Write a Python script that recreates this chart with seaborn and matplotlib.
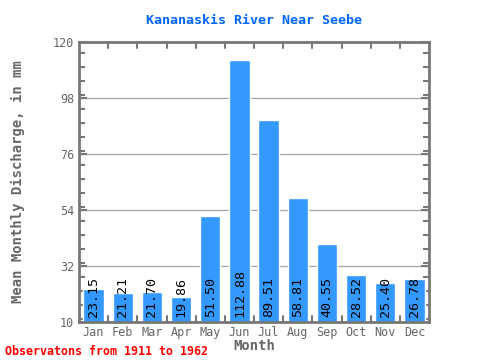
import numpy as np
import pandas as pd
import seaborn as sns
import matplotlib.pyplot as plt
from matplotlib.ticker import MultipleLocator, FixedLocator

months = ['Jan', 'Feb', 'Mar', 'Apr', 'May', 'Jun', 'Jul', 'Aug', 'Sep', 'Oct', 'Nov', 'Dec']
discharge = [23.15, 21.21, 21.70, 19.86, 51.50, 112.88, 89.51, 58.81, 40.55, 28.52, 25.40, 26.78]
yticks = [10, 32, 54, 76, 98, 120]

df = pd.DataFrame({'Month': months, 'Discharge': discharge})

sns.set_style('white')
plt.rcParams['font.family'] = ['DejaVu Sans Mono']

fig = plt.figure(figsize=(4.8, 3.6), dpi=100)
ax = fig.add_axes([0.1646, 0.1056, 0.7292, 0.7778])

sns.barplot(data=df, x='Month', y='Discharge', color='#3399ff', width=0.7,
            saturation=1, ax=ax, zorder=2)

ax.set_ylim(10, 120)
ax.set_xlim(-0.5, 11.5)
ax.yaxis.set_major_locator(FixedLocator(yticks))
ax.yaxis.set_minor_locator(MultipleLocator(5.5))
ax.grid(axis='y', which='major', color='#aaaaaa', linewidth=1, zorder=0)
ax.set_axisbelow(True)

for i, v in enumerate(discharge):
    ax.text(i, 12.0, '%.2f' % v, rotation=90, ha='center', va='bottom',
            fontsize=9.6, color='black', zorder=3)

for s in ax.spines.values():
    s.set_color('#777777')
    s.set_linewidth(2)

ax.set_xticks(np.arange(12))
ax.set_xticklabels(months)
ax.tick_params(axis='x', which='major', length=0, pad=3, labelsize=8.5, labelcolor='#666666')
ax.tick_params(axis='y', which='both', direction='in', left=True, right=True,
               color='#777777', width=1.5, labelsize=8.5, labelcolor='#666666')
ax.tick_params(axis='y', which='major', length=6)
ax.tick_params(axis='y', which='minor', length=4)

# month boundary ticks on top and bottom
for b in np.arange(0.5, 11.5, 1):
    ax.plot([b, b], [10, 12.5], color='#777777', lw=1.5, zorder=4, clip_on=False)
    ax.plot([b, b], [120, 117.5], color='#777777', lw=1.5, zorder=4, clip_on=False)

ax.set_xlabel('Month', fontsize=10, fontweight='bold', color='#666666', labelpad=0)
ax.set_ylabel('Mean Monthly Discharge, in mm', fontsize=10, fontweight='bold',
              color='#666666', labelpad=20)
ax.set_title('Kananaskis River Near Seebe', fontsize=9.6, fontweight='bold',
             color='#0066ff', pad=13)

fig.text(0.01, 0.015, 'Observatons from 1911 to 1962', fontsize=8.4, fontweight='bold',
         color='red')

fig.savefig('out.png', dpi=100)
